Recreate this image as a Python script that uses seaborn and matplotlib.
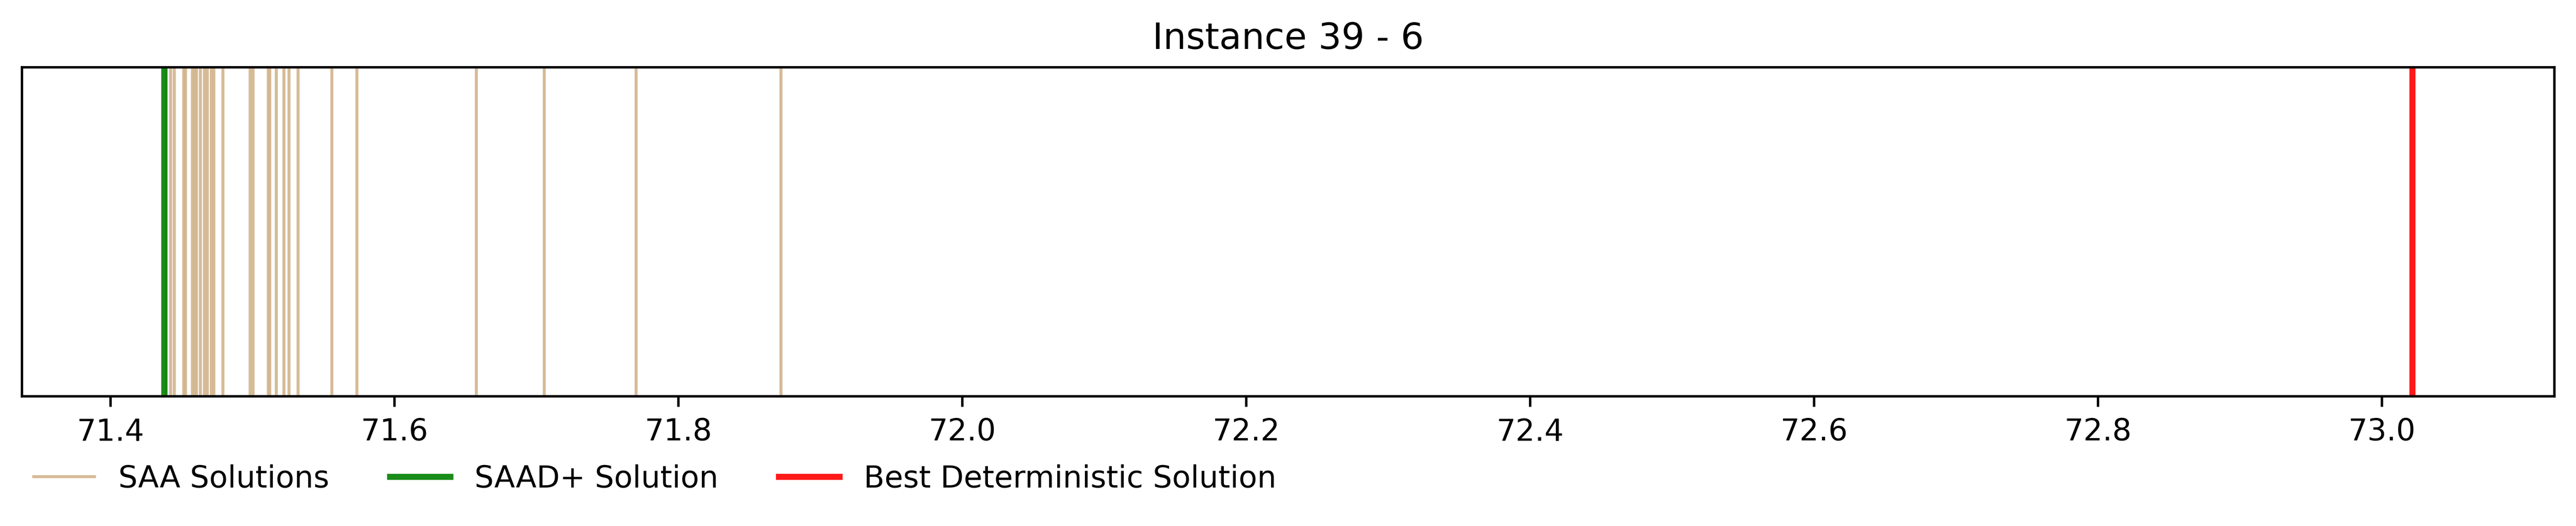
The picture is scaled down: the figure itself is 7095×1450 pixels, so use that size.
import matplotlib
matplotlib.use("Agg")
import matplotlib.pyplot as plt
import seaborn as sns
from matplotlib.lines import Line2D

# ---- data ----
title = "Instance 39 - 6"
saa_solutions = [
    71.4394, 71.4424, 71.4449, 71.4516, 71.4529, 71.4577, 71.4593, 71.4605,
    71.4634, 71.4662, 71.4682, 71.4710, 71.4728, 71.4793, 71.4984, 71.5004,
    71.5112, 71.5122, 71.5167, 71.5222, 71.5258, 71.5321, 71.5559, 71.5736,
    71.6577, 71.7055, 71.7702, 71.8722,
]
saad_plus_solution = [71.4377]
best_deterministic_solution = [73.0215]
x_ticks = [71.4, 71.6, 71.8, 72.0, 72.2, 72.4, 72.6, 72.8, 73.0]
legend_labels = ["SAA Solutions", "SAAD+ Solution", "Best Deterministic Solution"]
colors = ["tan", "green", "red"]

W, H, DPI = 7095, 1450, 600
fig = plt.figure(figsize=(W / DPI, H / DPI), dpi=DPI)
left, right, top, bottom = 59.5, 7035.3, 185, 1092
ax = fig.add_axes([left / W, 1 - bottom / H, (right - left) / W, (bottom - top) / H])

sns.rugplot(x=saa_solutions, height=1, ax=ax, color=colors[0], alpha=0.9,
            linewidth=1, expand_margins=False)
sns.rugplot(x=saad_plus_solution, height=1, ax=ax, color=colors[1], alpha=0.9,
            linewidth=2, expand_margins=False)
sns.rugplot(x=best_deterministic_solution, height=1, ax=ax, color=colors[2], alpha=0.9,
            linewidth=2, expand_margins=False)

ax.set_xlim(71.3374, 73.1215)
ax.set_ylim(0, 1)
ax.set_yticks([])
ax.set_xticks(x_ticks)
ax.set_xticklabels([f"{t:.1f}" for t in x_ticks])
ax.set_title(title, fontsize=12)

handles = [
    Line2D([0], [0], color=colors[0], alpha=0.9, lw=1),
    Line2D([0], [0], color=colors[1], alpha=0.9, lw=2),
    Line2D([0], [0], color=colors[2], alpha=0.9, lw=2),
]
ax.legend(handles, legend_labels, loc="upper left", bbox_to_anchor=(0, -0.170),
          borderaxespad=0, ncol=3, frameon=False, fontsize=10)

fig.savefig("out.png", dpi=DPI)
